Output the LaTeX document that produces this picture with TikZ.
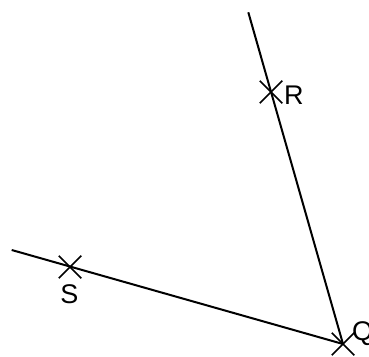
\documentclass[tikz,border=0pt]{standalone}
\usepackage{fontspec}
\setmainfont{Liberation Sans}
\usetikzlibrary{shapes.misc}
\begin{document}
\begin{tikzpicture}[x=1pt,y=1pt,
  mark cross/.style={cross out,draw,line width=1.5pt,minimum size=21pt,inner sep=0pt},
  lbl/.style={font=\fontsize{27}{30}\selectfont,inner sep=0pt},
  seg/.style={line width=2pt}]
\useasboundingbox (0,0) rectangle (369,356);
\node[mark cross] (Q) at (343,12) {};
\node[mark cross] (R) at (271,264) {};
\node[mark cross] (S) at (70,89) {};
\coordinate (T) at (248.3,343.7);
\coordinate (L) at (11.7,106);
\draw[seg] (Q.center) -- (T);
\draw[seg] (Q.center) -- (L);
\node[lbl,anchor=west] (Rl) at (284,261) {R};
\node[lbl] (Sl) at (69.5,62) {S};
\node[lbl,anchor=west] (Ql) at (352,22) {Q};
\end{tikzpicture}
\end{document}
